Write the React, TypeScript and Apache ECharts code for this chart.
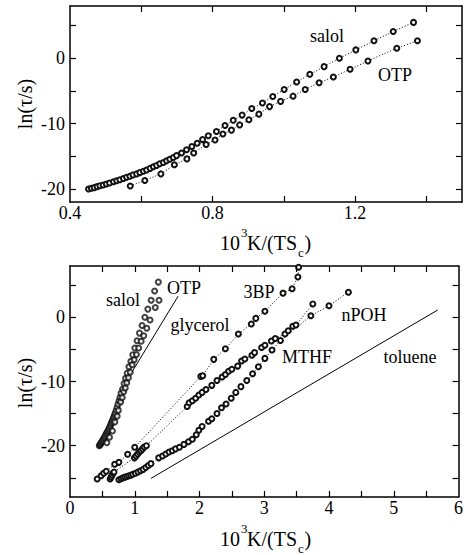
import React, { useEffect, useRef } from "react";
import * as echarts from "echarts";

const FONT = '"Liberation Serif", "Times New Roman", serif';

// salol (same data in both panels)
const SALOL_X = [0.452, 0.46, 0.468, 0.476, 0.484, 0.493, 0.502, 0.511, 0.522, 0.531, 0.54, 0.55, 0.559, 0.568, 0.577, 0.587, 0.596, 0.606, 0.615, 0.625, 0.634, 0.643, 0.652, 0.662, 0.671, 0.68, 0.69, 0.699, 0.713, 0.727, 0.742, 0.757, 0.772, 0.788, 0.811, 0.835, 0.858, 0.883, 0.91, 0.94, 0.969, 1.001, 1.036, 1.073, 1.113, 1.156, 1.202, 1.253, 1.307, 1.364];
const SALOL_Y = [-20.0, -19.9, -19.8, -19.65, -19.5, -19.4, -19.25, -19.1, -18.9, -18.75, -18.6, -18.4, -18.2, -18.05, -17.85, -17.7, -17.5, -17.3, -17.1, -16.85, -16.6, -16.4, -16.15, -15.95, -15.7, -15.45, -15.2, -14.9, -14.5, -14.0, -13.5, -13.0, -12.45, -11.85, -11.2, -10.3, -9.5, -8.7, -7.7, -6.85, -5.85, -4.77, -3.64, -2.46, -1.28, 0.0, 1.28, 2.67, 4.1, 5.49];

// OTP
const OTP_X = [0.569, 0.61, 0.655, 0.693, 0.728, 0.747, 0.782, 0.807, 0.829, 0.853, 0.876, 0.902, 0.93, 0.96, 0.991, 1.026, 1.06, 1.099, 1.139, 1.186, 1.236, 1.317, 1.375];
const OTP_Y = [-19.55, -18.7, -17.7, -16.3, -15.4, -14.5, -13.2, -12.5, -11.6, -11.0, -10.2, -9.4, -8.55, -7.4, -6.6, -5.8, -4.77, -3.74, -2.87, -1.69, -0.41, 1.54, 2.67];

// 3BP
const TBP_X = [0.42, 0.48, 0.52, 0.56, 0.69, 0.755, 0.89, 1.0, 2.02, 2.05, 2.22, 2.4, 2.6, 2.8, 2.87, 3.01, 3.29, 3.43, 3.52, 3.53];
const TBP_Y = [-25.2, -24.7, -24.3, -24.0, -22.9, -22.6, -21.35, -20.25, -9.2, -9.1, -6.55, -4.9, -2.6, -1.05, -0.16, 0.94, 3.77, 4.45, 6.28, 7.8];

// MTHF
const MTHF_X = [0.62, 0.635, 0.65, 0.665, 0.68, 0.995, 1.02, 1.045, 1.07, 1.095, 1.12, 1.145, 1.18, 1.81, 1.84, 1.89, 1.94, 1.99, 2.04, 2.1, 2.19, 2.27, 2.35, 2.4, 2.45, 2.5, 2.59, 2.65, 2.7, 2.81, 2.85, 2.96, 3.01, 3.11, 3.17, 3.32, 3.37, 3.44, 3.49, 3.75];
const MTHF_Y = [-25.2, -24.9, -24.6, -24.3, -24.1, -21.9, -21.6, -21.3, -21.0, -20.8, -20.5, -20.2, -20.0, -13.9, -13.3, -13.0, -12.6, -12.1, -11.7, -11.25, -10.6, -9.85, -9.3, -8.9, -8.4, -8.1, -7.6, -6.8, -6.5, -5.9, -5.5, -4.7, -4.35, -3.7, -3.3, -2.6, -2.1, -1.4, -1.2, 2.09];

// nPOH
const NPOH_X = [0.755, 0.79, 0.82, 0.85, 0.88, 0.91, 0.94, 0.97, 1.01, 1.05, 1.09, 1.13, 1.17, 1.21, 1.25, 1.37, 1.43, 1.48, 1.53, 1.58, 1.63, 1.69, 1.76, 1.83, 1.89, 1.95, 1.99, 2.04, 2.14, 2.19, 2.27, 2.34, 2.41, 2.49, 2.56, 2.64, 2.73, 2.82, 2.91, 3.01, 3.12, 3.25, 3.72, 4.0, 4.3];
const NPOH_Y = [-25.3, -25.15, -25.0, -24.9, -24.8, -24.7, -24.6, -24.45, -24.3, -24.1, -23.9, -23.7, -23.4, -23.1, -22.8, -21.9, -21.6, -21.3, -21.0, -20.8, -20.5, -20.25, -19.8, -19.4, -19.0, -18.3, -17.6, -17.0, -16.2, -15.8, -15.0, -14.1, -13.5, -12.6, -11.7, -10.8, -9.85, -8.8, -7.7, -6.4, -5.1, -3.6, 0.25, 1.8, 3.92];

// solid lines
const GLYCEROL_X = [0.88, 1.67];
const GLYCEROL_Y = [-9.8, 3.3];
const TOLUENE_X = [1.25, 5.68];
const TOLUENE_Y = [-25.1, 1.15];

// axes
const TOP_X_RANGE = [0.4, 1.5];
const TOP_Y_RANGE = [-22, 8];
const TOP_X_TICKS = [0.6, 0.8, 1.0, 1.2, 1.4];
const TOP_X_LABELS = [0.4, 0.8, 1.2];
const TOP_Y_TICKS = [-20, -15, -10, -5, 0, 5];
const TOP_Y_LABELS = [-20, -10, 0];
const BOT_X_RANGE = [0, 6];
const BOT_Y_RANGE = [-28, 8];
const BOT_X_TICKS = [0.5, 1, 1.5, 2, 2.5, 3, 3.5, 4, 4.5, 5, 5.5];
const BOT_X_LABELS = [0, 1, 2, 3, 4, 5, 6];
const BOT_Y_TICKS = [-25, -20, -15, -10, -5, 0, 5];
const BOT_Y_LABELS = [-20, -10, 0];

const zip = (xs: number[], ys: number[]) => xs.map((x, i) => [x, ys[i]]);

const GRID_W = 392;
const TOP_H = 196;
const BOT_H = 231;
const TICK_PX = 6;

export default function App() {
  const ref = useRef<HTMLDivElement>(null);
  useEffect(() => {
    const chart = echarts.init(ref.current!, null, { renderer: "svg" });
    const line = { show: true, onZero: false, lineStyle: { color: "#000", width: 1.5 } };
    const lab = (vals: number[], show: boolean, margin: number) => ({ show, customValues: vals, color: "#000", fontFamily: FONT, fontSize: 18, margin });
    const xAx = (grid: number, range: number[], labels: number[], pos: string, show: boolean) => ({
      type: "value", gridIndex: grid, min: range[0], max: range[1], position: pos,
      axisLine: line, axisTick: { show: false }, axisLabel: lab(labels, show, 2), splitLine: { show: false },
    });
    const yAx = (grid: number, range: number[], labels: number[], pos: string, show: boolean) => ({
      type: "value", gridIndex: grid, min: range[0], max: range[1], position: pos,
      axisLine: line, axisTick: { show: false }, axisLabel: lab(labels, show, 5), splitLine: { show: false },
    });
    // inward tick marks on all four sides (pixel length converted to data units)
    const tickLines = (xt: number[], yt: number[], xr: number[], yr: number[], h: number) => {
      const dx = (TICK_PX * (xr[1] - xr[0])) / GRID_W;
      const dy = (TICK_PX * (yr[1] - yr[0])) / h;
      const out: any[] = [];
      xt.forEach((v) => {
        out.push([{ coord: [v, yr[0]] }, { coord: [v, yr[0] + dy] }]);
        out.push([{ coord: [v, yr[1]] }, { coord: [v, yr[1] - dy] }]);
      });
      yt.forEach((v) => {
        out.push([{ coord: [xr[0], v] }, { coord: [xr[0] + dx, v] }]);
        out.push([{ coord: [xr[1], v] }, { coord: [xr[1] - dx, v] }]);
      });
      return {
        silent: true, symbol: ["none", "none"], label: { show: false },
        lineStyle: { color: "#000", width: 1.2, type: "solid", opacity: 1 }, data: out,
      };
    };
    const sym = { symbol: "emptyCircle", symbolSize: 5, itemStyle: { color: "#111", borderWidth: 0.7 } };
    const dotted = (name: string, data: number[][], ai: number) => ({
      type: "line", name, data, xAxisIndex: ai, yAxisIndex: ai, ...sym,
      showSymbol: true, showAllSymbol: true,
      lineStyle: { color: "#000", width: 1, type: [1, 2] }, z: 3,
    });
    const scat = (name: string, data: number[][], ai: number) => ({
      type: "scatter", name, data, xAxisIndex: ai, yAxisIndex: ai, ...sym, z: 3,
    });
    const solid = (name: string, data: number[][], ai: number) => ({
      type: "line", name, data, xAxisIndex: ai, yAxisIndex: ai, symbol: "none",
      lineStyle: { color: "#000", width: 1 }, z: 2,
    });
    const txt = (s: string, x: number, y: number, size = 18, rot = 0, align = "center") => ({
      type: "text", x, y, rotation: rot,
      style: { text: s, fill: "#000", font: `${size}px ${FONT}`, fontFamily: FONT, fontSize: size, align, verticalAlign: "middle" },
    });
    const title = (dy: number) => [
      txt("10", 220, 242.5 + dy, 20, 0, "left"),
      txt("3", 241, 232 + dy, 13, 0, "left"),
      txt("K/(TS", 247, 242.5 + dy, 20, 0, "left"),
      txt("c", 298, 252 + dy, 13, 0, "left"),
      txt(")", 304.5, 242.5 + dy, 20, 0, "left"),
    ];
    chart.setOption({
      animation: false,
      backgroundColor: "#fff",
      grid: [
        { left: 70, top: 6, width: GRID_W, height: TOP_H },
        { left: 70, top: 266, width: GRID_W, height: BOT_H },
      ],
      xAxis: [
        xAx(0, TOP_X_RANGE, TOP_X_LABELS, "bottom", true),
        xAx(0, TOP_X_RANGE, TOP_X_LABELS, "top", false),
        xAx(1, BOT_X_RANGE, BOT_X_LABELS, "bottom", true),
        xAx(1, BOT_X_RANGE, BOT_X_LABELS, "top", false),
      ],
      yAxis: [
        yAx(0, TOP_Y_RANGE, TOP_Y_LABELS, "left", true),
        yAx(0, TOP_Y_RANGE, TOP_Y_LABELS, "right", false),
        yAx(1, BOT_Y_RANGE, BOT_Y_LABELS, "left", true),
        yAx(1, BOT_Y_RANGE, BOT_Y_LABELS, "right", false),
      ],
      series: [
        { ...dotted("salol", zip(SALOL_X, SALOL_Y), 0), markLine: tickLines(TOP_X_TICKS, TOP_Y_TICKS, TOP_X_RANGE, TOP_Y_RANGE, TOP_H) },
        dotted("OTP", zip(OTP_X, OTP_Y), 0),
        scat("salol", zip(SALOL_X, SALOL_Y), 2),
        scat("OTP", zip(OTP_X, OTP_Y), 2),
        solid("glycerol", zip(GLYCEROL_X, GLYCEROL_Y), 2),
        dotted("3BP", zip(TBP_X, TBP_Y), 2),
        dotted("MTHF", zip(MTHF_X, MTHF_Y), 2),
        dotted("nPOH", zip(NPOH_X, NPOH_Y), 2),
        { ...solid("toluene", zip(TOLUENE_X, TOLUENE_Y), 2), markLine: tickLines(BOT_X_TICKS, BOT_Y_TICKS, BOT_X_RANGE, BOT_Y_RANGE, BOT_H) },
      ],
      graphic: [
        txt("salol", 327, 36),
        txt("OTP", 395, 75),
        txt("salol", 123, 300),
        txt("OTP", 184, 288),
        txt("glycerol", 200, 325),
        txt("3BP", 259, 292),
        txt("nPOH", 364, 315),
        txt("MTHF", 307, 357),
        txt("toluene", 410, 357),
        txt("ln(τ/s)", 25, 104, 20, Math.PI / 2),
        txt("ln(τ/s)", 25, 383, 20, Math.PI / 2),
        ...title(0),
        ...title(296.5),
      ],
    });
    return () => chart.dispose();
  }, []);
  return <div ref={ref} style={{ position: "absolute", left: 0, top: 0, width: 466, height: 555, background: "#fff" }} />;
}
